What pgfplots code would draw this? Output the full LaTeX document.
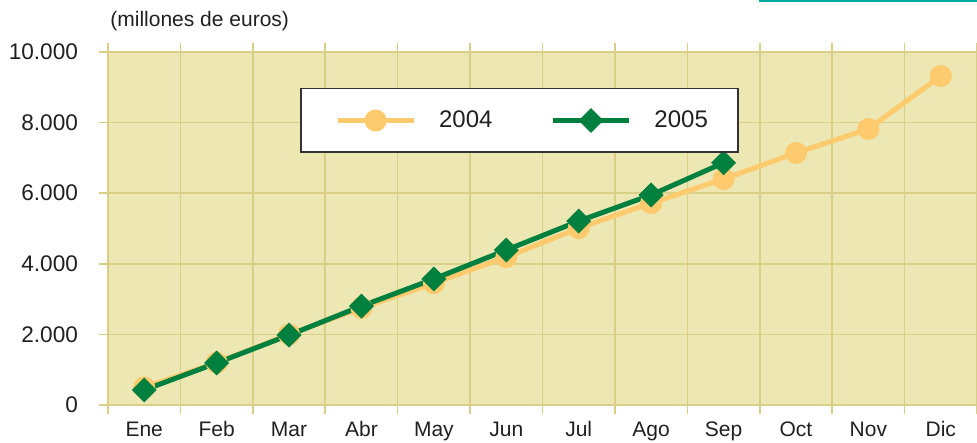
\documentclass[border=0pt]{standalone}
\usepackage{pgfplots}
\pgfplotsset{compat=1.18}
\usepackage{fontspec}
\setmainfont{Liberation Sans}
\definecolor{bg}{HTML}{EDE7B4}
\definecolor{gridc}{HTML}{D9CF86}
\definecolor{orangec}{HTML}{FDCA6E}
\definecolor{greenc}{HTML}{00803F}
\definecolor{tealc}{HTML}{00A99D}
\definecolor{txt}{HTML}{231F20}
\begin{document}
\begin{tikzpicture}
\path[use as bounding box] (-54pt,-19pt) rectangle (434.5pt,202.5pt);
\begin{axis}[
  scale only axis, width=434.5pt, height=176.5pt,
  xmin=-0.5, xmax=11.5, ymin=0, ymax=10000,
  scaled y ticks=false,
  axis background/.style={fill=bg},
  axis line style={draw=gridc, line width=1pt},
  xtick={-0.5,0.5,...,11.5},
  x tick label as interval,
  xticklabels={Ene,Feb,Mar,Abr,May,Jun,Jul,Ago,Sep,Oct,Nov,Dic},
  ytick={0,2000,...,10000},
  xmajorgrids, ymajorgrids,
  grid style={draw=gridc, line width=0.8pt},
  tick align=outside,
  major tick length=4.5pt,
  tick style={draw=gridc, line width=0.8pt},
  /pgf/number format/.cd, 1000 sep={.}, assume math mode=true,
  /pgfplots/.cd,
  yticklabel style={font=\fontsize{11.3}{13}\selectfont, text=txt, xshift=-7pt},
  xticklabel style={font=\fontsize{10.5}{12}\selectfont, text=txt, text height=7.6pt, text depth=2pt},
  legend style={at={(0.4735,0.806)}, anchor=center, draw=black!80, line width=0.9pt, fill=white,
    font=\fontsize{12}{14}\selectfont, text=txt, inner xsep=13pt, inner ysep=9pt},
  legend columns=2,
  legend cell align=left,
  /tikz/every even column/.append style={column sep=23pt},
  legend image code/.code={\draw[mark repeat=2,mark phase=2] plot coordinates {(0pt,0pt)(19pt,0pt)(38pt,0pt)}; \path (-4pt,0pt) (47.5pt,0pt);},
]
\addplot[orangec, line width=2.5pt, mark=*, mark size=5.3pt, mark options={line width=0.4pt}]
coordinates {(0,500)(1,1200)(2,2000)(3,2750)(4,3450)(5,4190)(6,5010)(7,5720)(8,6400)(9,7140)(10,7820)(11,9320)};
\addlegendentry{2004}
\addplot[greenc, line width=2.5pt, mark=square*, mark size=4.2pt, mark options={rotate=45, line width=0.4pt}]
coordinates {(0,425)(1,1190)(2,1980)(3,2800)(4,3570)(5,4390)(6,5210)(7,5950)(8,6860)};
\addlegendentry{2005\hspace{6pt}}
\end{axis}
\node[anchor=base west, font=\fontsize{10.5}{12}\selectfont, text=txt, inner sep=0pt] at (1pt,189pt) {(millones de euros)};
\draw[tealc, line width=1.2pt] (325.5pt,202pt) -- (434.5pt,202pt);
\end{tikzpicture}
\end{document}
